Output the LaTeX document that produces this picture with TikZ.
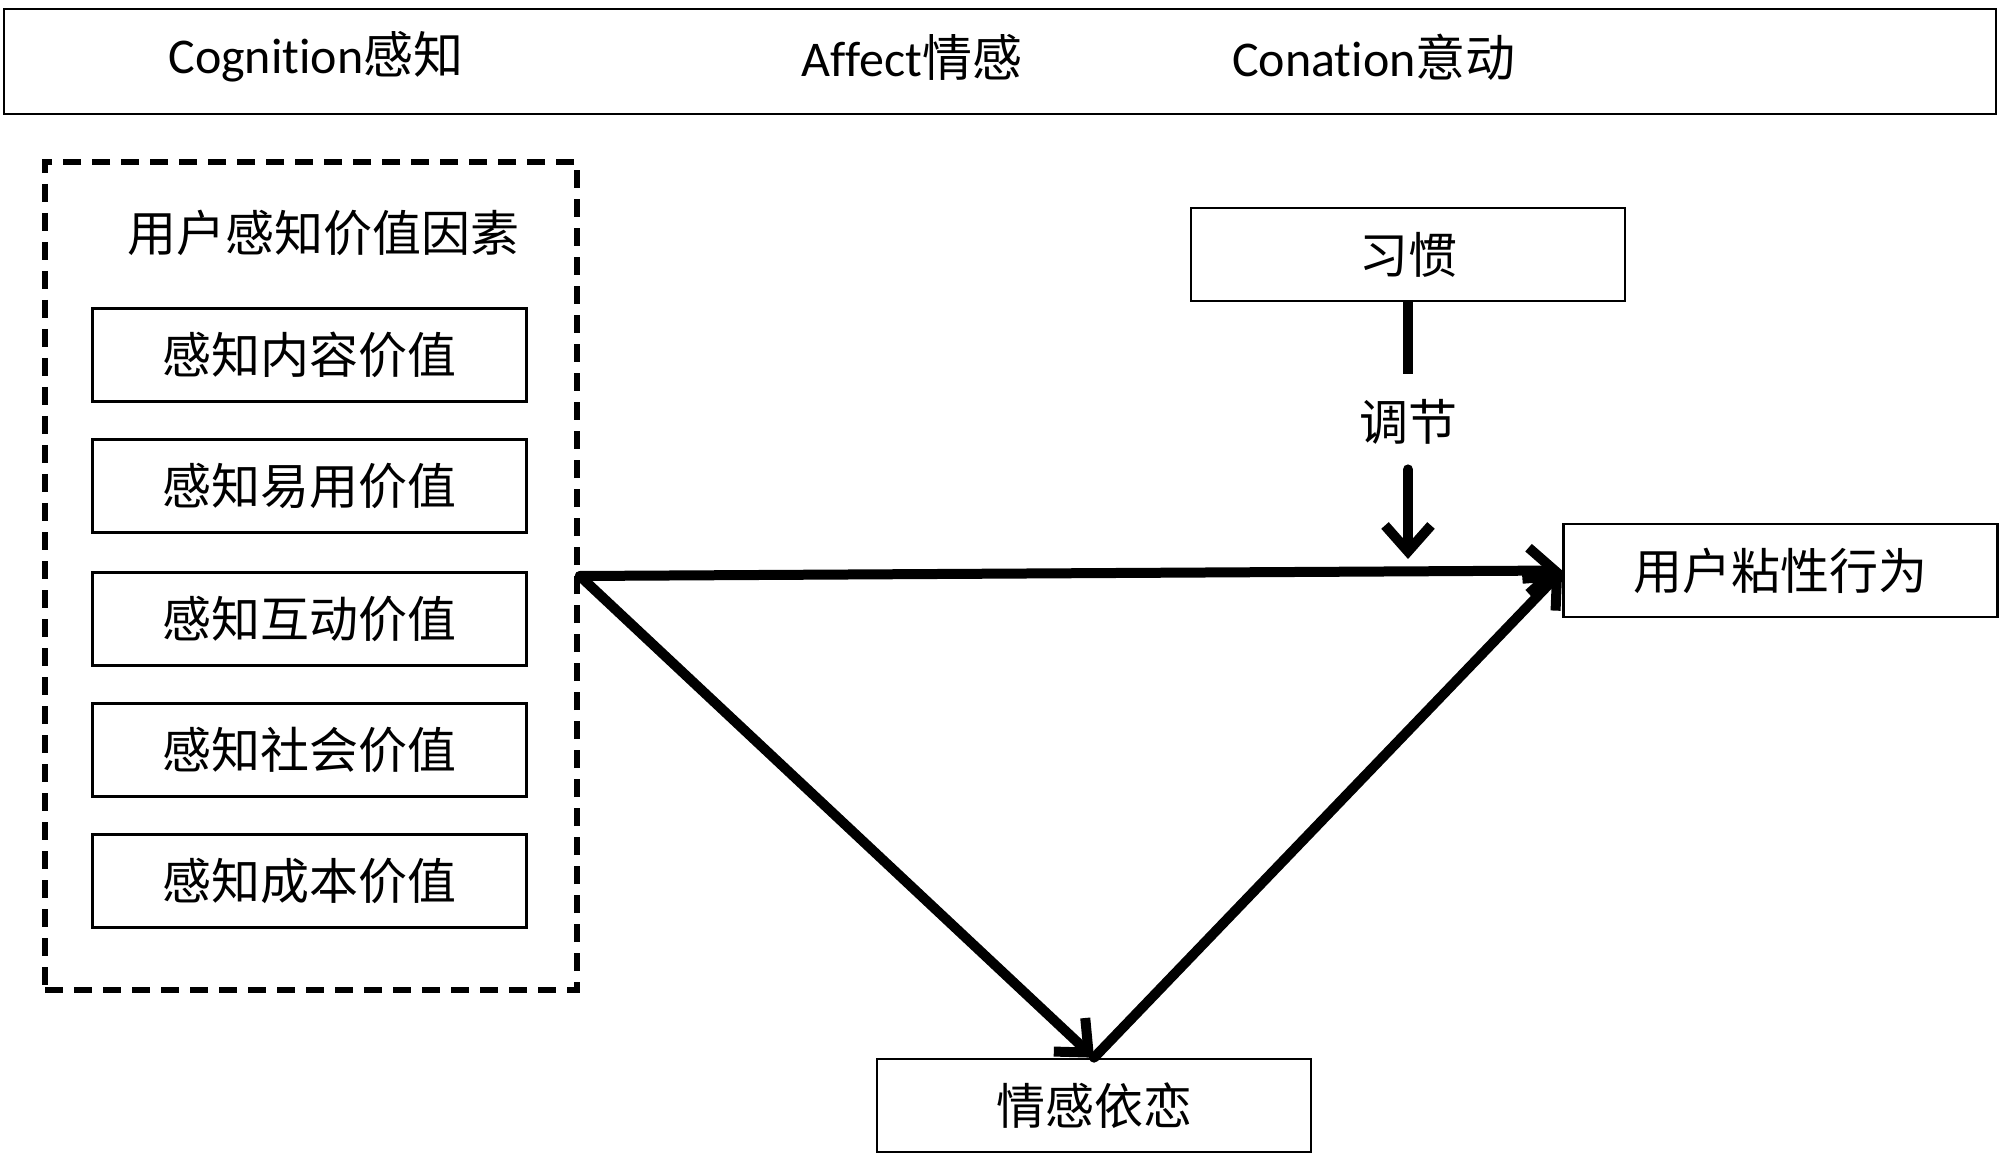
\documentclass[tikz,border=0pt]{standalone}
\usepackage{fontspec}
\setmainfont{Carlito}[Ligatures=NoCommon]
\newfontfamily\cjk{Noto Sans CJK SC}
\usetikzlibrary{arrows.meta}
\begin{document}
\begin{tikzpicture}[x=0.5pt,y=-0.5pt,
  txt/.style={font=\fontsize{25}{27}\selectfont, inner sep=0pt},
  cjktxt/.style={font=\cjk\fontsize{24.5}{27}\selectfont, inner sep=0pt},
  cbox/.style={draw, line width=1.3pt, inner sep=0pt, minimum width=217pt, minimum height=46.5pt, font=\cjk\fontsize{24.5}{27}\selectfont},
  conn/.style={line width=5pt, line cap=round, -{Straight Barb[length=13pt,width=23pt,line width=5pt]}},
  plain/.style={line width=5pt}
]
\useasboundingbox (0,0) rectangle (2000,1154);
% top band
\node[draw, line width=1.3pt, minimum width=996pt, minimum height=52.5pt, inner sep=0pt] (band) at (1000,61.5) {};
\node[txt] (cog) at (316,57) {Cognition{\cjk 感知}};
\node[txt] (aff) at (912,57) {Affect{\cjk 情感}};
\node[txt] (con) at (1374,57) {Conation{\cjk 意动}};
% dashed group
\node[draw, dash pattern=on 9pt off 5.5pt, line width=2.8pt, minimum width=266pt, minimum height=414pt, inner sep=0pt] (grp) at (311,576) {};
\node[cjktxt] (gtitle) at (323,233) {用户感知价值因素};
\node[cbox] (v1) at (309.5,355) {感知内容价值};
\node[cbox] (v2) at (309.5,486) {感知易用价值};
\node[cbox] (v3) at (309.5,619) {感知互动价值};
\node[cbox] (v4) at (309.5,750) {感知社会价值};
\node[cbox] (v5) at (309.5,881) {感知成本价值};
% right side
\node[cbox] (habit) at (1408,254.5) {习惯};
\node[cbox] (stick) at (1780.5,570.5) {用户粘性行为};
\node[cbox] (attach) at (1094,1105.5) {情感依恋};
\node[cjktxt, minimum height=47.5pt] (mod) at (1408,421.5) {调节};
\coordinate (modtip) at (1408,559);
% connectors
\draw[plain] (habit.south) -- (mod.north);
\draw[conn] (mod.south) -- (modtip);
\draw[conn] (grp.east) -- (stick.west);
\draw[conn] (grp.east) -- (attach.north);
\draw[conn] (attach.north) -- (stick.west);
\end{tikzpicture}
\end{document}
